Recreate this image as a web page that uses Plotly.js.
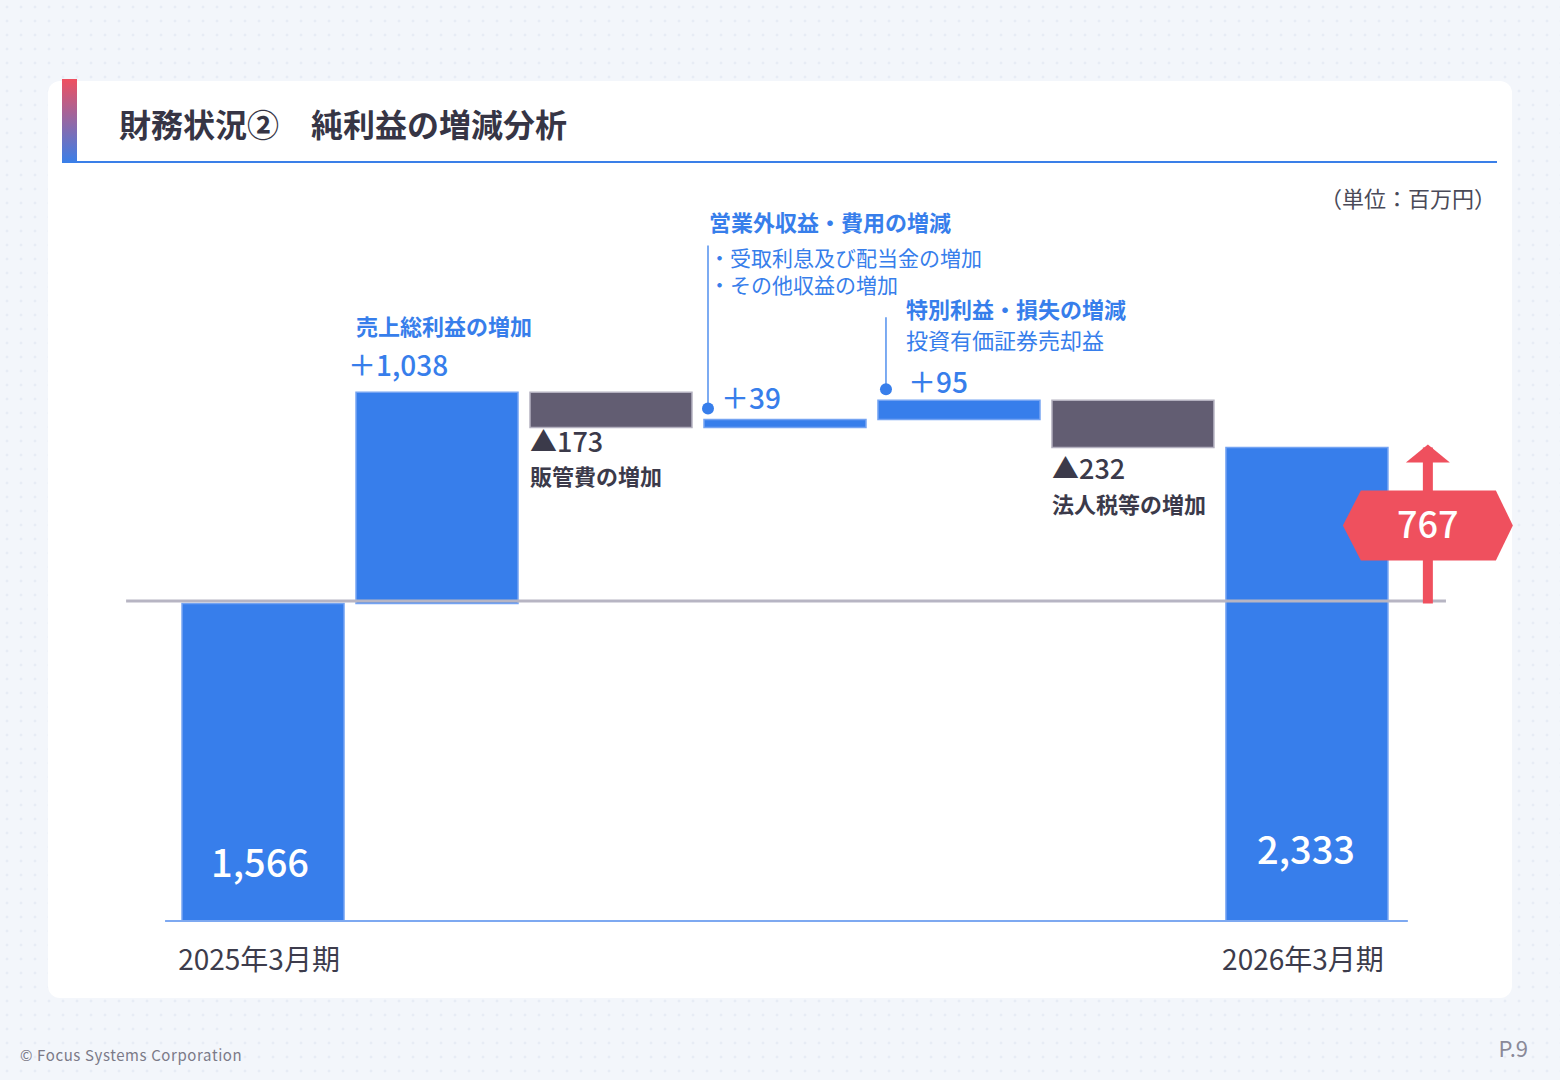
<!DOCTYPE html>
<html lang="ja">
<head>
<meta charset="utf-8">
<script src="https://cdn.plot.ly/plotly-3.0.1.min.js"></script>
<style>
    body {
        margin: 0;
        width: 1560px;
        height: 1080px;
        overflow: hidden;
        position: relative;
        font-family: "Noto Sans CJK JP", "Noto Sans", sans-serif;
        background-color: #f3f6fb;
        background-image: radial-gradient(#e7ecf5 1.2px, transparent 1.7px);
        background-size: 14px 14px;
    }
    #card { position: absolute; left: 48px; top: 81px; width: 1464px; height: 917px; background: #fff; border-radius: 12px; }
    #accent { position: absolute; left: 62px; top: 79px; width: 15px; height: 84px; background: linear-gradient(#ef5060, #3a7fe8); }
    #rule { position: absolute; left: 62px; top: 161px; width: 1435px; height: 2px; background: #3a7fe8; }
    #title { position: absolute; left: 119px; top: 102px; line-height: 42px; font-size: 32px; font-weight: 700; color: #363545; white-space: nowrap; }
    #unit { position: absolute; right: 64px; top: 182px; line-height: 30px; font-size: 22px; color: #4a4a58; white-space: nowrap; }
    #footer { position: absolute; left: 20px; top: 1045px; line-height: 20px; font-size: 15px; letter-spacing: 0.6px; color: #7b7a88; }
    #page { position: absolute; right: 32px; top: 1033px; line-height: 28px; font-size: 22px; color: #8a8998; }
    #chart { position: absolute; left: 0; top: 0; width: 1560px; height: 1080px; }
</style>
</head>
<body>
<div id="card"></div>
<div id="accent"></div>
<div id="rule"></div>
<div id="title">財務状況②　純利益の増減分析</div>
<div id="unit">（単位：百万円）</div>
<div id="footer">© Focus Systems Corporation</div>
<div id="page">P.9</div>
<div id="chart"></div>

<script>
/*** DATA ***/
const categories = ['2025年3月期', '売上総利益', '販管費', '営業外損益', '特別損益', '法人税等', '2026年3月期'];
const measures = ['absolute', 'relative', 'relative', 'relative', 'relative', 'relative', 'total'];
const values = [1566, 1038, -173, 39, 95, -232, 2333];
const stepTitles = ['', '売上総利益の増加', '販管費の増加', '営業外収益・費用の増減', '特別利益・損失の増減', '法人税等の増加', ''];
const stepNotes = [[], [], [], ['・受取利息及び配当金の増加', '・その他収益の増加'], ['投資有価証券売却益'], [], []];
const tickLabels = ['2025年3月期', '2026年3月期'];

/*** STYLE ***/
const FONT = '"Noto Sans CJK JP", "Noto Sans", sans-serif';
const BLUE = '#377eeb';
const DARK = '#625d72';
const RED = '#ef505e';
const TEXT = '#3b3a4a';
const GAP = 0.069;
const HALF = (1 - GAP) / 2;

//low and high end of every bar, walking the waterfall
function bar_spans() {
    var spans = [];
    var run = 0;
    for (var i = 0; i < values.length; i++) {
        if (measures[i] == 'absolute') {
            run = values[i];
            spans.push([0, run]);
        } else if (measures[i] == 'total') {
            spans.push([0, run]);
        } else {
            var lo = run;
            run += values[i];
            spans.push([Math.min(lo, run), Math.max(lo, run)]);
        }
    }
    return spans;
}

//number text: plain for totals, ＋ / ▲ for steps
function fmt(i) {
    var s = Math.abs(values[i]).toLocaleString('en-US');
    if (measures[i] != 'relative') return s;
    return values[i] < 0 ? '▲' + s : '＋' + s;
}

function label(x, y, text, size, color, weight, xshift, yshift, xanchor) {
    return {
        x: x, y: y, xref: 'x', yref: 'y', text: text, showarrow: false, align: 'left',
        xanchor: xanchor || 'left', yanchor: 'middle', xshift: xshift, yshift: yshift,
        font: { family: FONT, size: size, color: color, weight: weight }
    };
}

const spans = bar_spans();
const diff = spans[6][1] - spans[0][1];

/*** ANNOTATIONS ***/
var annotations = [];

// totals inside the bars
annotations.push(label(0, 0, fmt(0), 38, '#ffffff', 500, -3, 62, 'center'));
annotations.push(label(6, 0, fmt(6), 38, '#ffffff', 500, -1, 75, 'center'));

// step labels: [index, value shift x, value shift y, title shift x, title shift y, notes shift y]
var placing = [
    [1, -10, 28, -2, 67, 0],
    [2, -2, -13, -2, -47, 0],
    [3, 15, 23, 3, 199, 149],
    [4, 28, 19, 26, 92, 61],
    [5, -2, -20, -2, -56, 0]
];
placing.forEach(function (p) {
    var i = p[0];
    var up = values[i] >= 0;
    var y = up ? spans[i][1] : spans[i][0];
    var color = up ? BLUE : TEXT;
    annotations.push(label(i - HALF, y, fmt(i), up ? 28 : 27, color, 500, p[1], p[2]));
    annotations.push(label(i - HALF, y, stepTitles[i], 22, color, 700, p[3], p[4]));
    if (stepNotes[i].length) {
        annotations.push(label(i - HALF, y, stepNotes[i].join('<br>'), i == 3 ? 21 : 22, color, 400, p[3], p[5]));
    }
});

// difference badge
const arrowX = 6.695;
const mid = (spans[0][1] + spans[6][1]) / 2;
annotations.push(label(arrowX, mid, String(diff), 36, '#ffffff', 500, 0, 3, 'center'));

/*** SHAPES ***/
function pixel_shape(type, x, y, extra) {
    var s = { type: type, xref: 'x', yref: 'y', xsizemode: 'pixel', ysizemode: 'pixel', xanchor: x, yanchor: y, layer: 'above' };
    return Object.assign(s, extra);
}

var shapes = [
    // bottom axis line
    { type: 'line', xref: 'x', yref: 'y', x0: -0.563, x1: 6.58, y0: 0, y1: 0, layer: 'above', line: { color: '#7ea9f1', width: 4 } },
    // previous-year level, drawn just above the first bar
    { type: 'line', xref: 'x', yref: 'y', ysizemode: 'pixel', yanchor: spans[0][1], x0: -0.787, x1: 6.799, y0: 2.5, y1: 2.5, layer: 'above', line: { color: '#b7b5c3', width: 3 } },
    // leader lines with dots
    pixel_shape('line', 3 - HALF, spans[3][1], { x0: 4, x1: 4, y0: 11, y1: 174, line: { color: BLUE, width: 1.3 } }),
    pixel_shape('circle', 3 - HALF, spans[3][1], { x0: -2, x1: 10, y0: 5, y1: 17, fillcolor: BLUE, line: { width: 0 } }),
    pixel_shape('line', 4 - HALF, spans[4][1], { x0: 8, x1: 8, y0: 11, y1: 83, line: { color: BLUE, width: 1.3 } }),
    pixel_shape('circle', 4 - HALF, spans[4][1], { x0: 2, x1: 14, y0: 5, y1: 17, fillcolor: BLUE, line: { width: 0 } }),
    // red arrow
    { type: 'line', xref: 'x', yref: 'y', x0: arrowX, x1: arrowX, y0: spans[0][1], y1: spans[6][1], layer: 'above', line: { color: RED, width: 10 } },
    pixel_shape('path', arrowX, spans[6][1], { path: 'M -22 -15 L 22 -15 L 0 3 Z', fillcolor: RED, line: { width: 0 } }),
    pixel_shape('path', arrowX, mid, { path: 'M -85 0 L -67 35 L 68 35 L 85 0 L 68 -35 L -67 -35 Z', fillcolor: RED, line: { width: 0 } })
];

/*** PLOT ***/
var trace = {
    type: 'waterfall',
    x: categories,
    y: values,
    measure: measures,
    textinfo: 'none',
    hoverinfo: 'skip',
    connector: { visible: false },
    increasing: { marker: { color: BLUE, line: { color: '#74a3f2', width: 1.5 } } },
    decreasing: { marker: { color: DARK, line: { color: '#b4b1c0', width: 1.5 } } },
    totals: { marker: { color: BLUE, line: { color: '#74a3f2', width: 1.5 } } }
};

var layout = {
    width: 1560,
    height: 1080,
    margin: { l: 100, r: 30, t: 180, b: 158 },
    paper_bgcolor: 'rgba(0,0,0,0)',
    plot_bgcolor: 'rgba(0,0,0,0)',
    showlegend: false,
    hovermode: false,
    waterfallgap: GAP,
    xaxis: {
        range: [-0.937, 7.282],
        tickvals: [categories[0], categories[6]],
        ticktext: tickLabels,
        ticks: '',
        showgrid: false,
        zeroline: false,
        showline: false,
        ticklabelstandoff: 19,
        ticklabelshift: -4,
        tickfont: { family: FONT, size: 28, color: '#3d3c4c' }
    },
    yaxis: {
        range: [0, 3648],
        showgrid: false,
        zeroline: false,
        showline: false,
        showticklabels: false
    },
    annotations: annotations,
    shapes: shapes
};

Plotly.newPlot('chart', [trace], layout, { displayModeBar: false, staticPlot: true });
</script>
</body>
</html>
